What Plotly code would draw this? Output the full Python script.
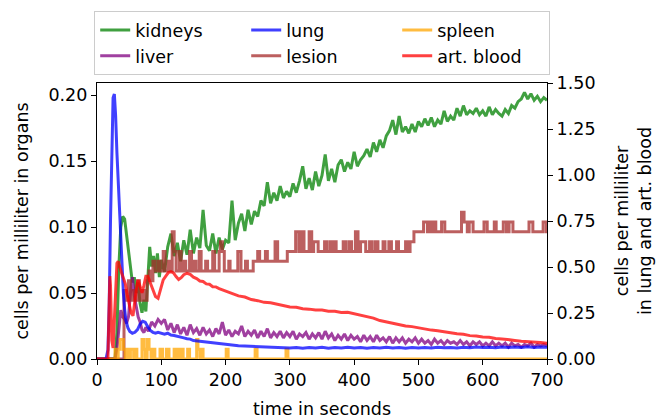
import plotly.graph_objects as go

# ---------------- data ----------------
Q = 0.00741  # quantum of the step-like organ series (cells / ml)

t_kidneys = [0, 28, 31, 34, 37, 40, 43, 46, 49, 52, 55, 58, 61, 64, 67, 70, 73, 76, 79, 82, 85, 88, 91, 94, 97,
             100, 105, 110, 115, 120, 125, 130, 135, 140, 145, 150, 155, 160, 165, 170, 175, 180, 185, 190, 195,
             200, 205, 210, 215, 220, 225, 230, 235, 240, 245, 250, 255, 260, 265, 270, 275, 280, 285, 290, 295,
             300, 305, 310, 315, 320, 325, 330, 335, 340, 345, 350, 355, 360, 365, 370, 375, 380, 385, 390, 395,
             400, 405, 410, 415, 420, 425, 430, 435, 440, 445, 450, 455, 460, 465, 470, 475, 480, 485, 490, 495,
             500, 505, 510, 515, 520, 525, 530, 535, 540, 545, 550, 555, 560, 565, 570, 575, 580, 585, 590, 595,
             600, 605, 610, 615, 620, 625, 630, 635, 640, 645, 650, 655, 660, 665, 670, 675, 680, 685, 690, 695, 700]
kidneys = [0, 0, 0.02, 0.07, 0.1, 0.108, 0.106, 0.095, 0.08, 0.07, 0.058, 0.062, 0.05, 0.058, 0.042, 0.035, 0.045,
           0.036, 0.06, 0.085, 0.07, 0.078, 0.065, 0.08, 0.062,
           0.075, 0.066, 0.085, 0.095, 0.078, 0.088, 0.074, 0.09, 0.079, 0.098, 0.08, 0.092, 0.084, 0.113, 0.086,
           0.082, 0.095, 0.08, 0.092, 0.083,
           0.09, 0.088, 0.12, 0.09, 0.103, 0.11, 0.097, 0.113, 0.102, 0.112, 0.108, 0.12, 0.116, 0.134, 0.118,
           0.126, 0.12, 0.131, 0.122, 0.127,
           0.123, 0.133, 0.126, 0.135, 0.146, 0.129, 0.137, 0.128, 0.142, 0.131, 0.139, 0.155, 0.135, 0.144, 0.134,
           0.147, 0.151, 0.142, 0.149, 0.144,
           0.157, 0.146, 0.151, 0.154, 0.159, 0.153, 0.164, 0.157, 0.166, 0.16, 0.169, 0.173, 0.181, 0.17, 0.184,
           0.172, 0.176, 0.171, 0.178, 0.172,
           0.18, 0.176, 0.182, 0.177, 0.183, 0.176, 0.181, 0.178, 0.188, 0.18, 0.184, 0.181, 0.19, 0.184, 0.192,
           0.185, 0.188, 0.186, 0.19, 0.185,
           0.188, 0.184, 0.191, 0.185, 0.189, 0.186, 0.184, 0.189, 0.186, 0.192, 0.19, 0.195, 0.197, 0.202, 0.197,
           0.201, 0.196, 0.199, 0.195, 0.198, 0.196]

t_liver = [0, 28, 31, 34, 37, 40, 43, 46, 49, 52, 55, 58, 61, 64, 67, 70, 73, 76, 80, 85, 90, 95,
           100, 105, 110, 115, 120, 125, 130, 135, 140, 145, 150, 155, 160, 165, 170, 175, 180, 185, 190, 195,
           200, 205, 210, 215, 220, 225, 230, 235, 240, 245, 250, 255, 260, 265, 270, 275, 280, 285, 290, 295,
           300, 305, 310, 315, 320, 325, 330, 335, 340, 345, 350, 355, 360, 365, 370, 375, 380, 385, 390, 395,
           400, 405, 410, 415, 420, 425, 430, 435, 440, 445, 450, 455, 460, 465, 470, 475, 480, 485, 490, 495,
           500, 505, 510, 515, 520, 525, 530, 535, 540, 545, 550, 555, 560, 565, 570, 575, 580, 585, 590, 595,
           600, 605, 610, 615, 620, 625, 630, 635, 640, 645, 650, 655, 660, 665, 670, 675, 680, 685, 690, 695, 700]
liver = [0, 0, 0.008, 0.025, 0.037, 0.032, 0.03, 0.027, 0.032, 0.05, 0.062, 0.048, 0.04, 0.032, 0.028, 0.022,
         0.02, 0.024, 0.021, 0.028, 0.025, 0.03,
         0.027, 0.03, 0.022, 0.027, 0.02, 0.026, 0.019, 0.024, 0.018, 0.026, 0.02, 0.023, 0.018, 0.024, 0.019,
         0.022, 0.017, 0.023, 0.019, 0.028,
         0.018, 0.022, 0.017, 0.021, 0.019, 0.025, 0.017, 0.021, 0.018, 0.022, 0.016, 0.021, 0.017, 0.023, 0.016,
         0.02, 0.017, 0.021, 0.016, 0.02,
         0.017, 0.021, 0.015, 0.019, 0.017, 0.02, 0.015, 0.019, 0.016, 0.02, 0.015, 0.021, 0.016, 0.019, 0.014,
         0.018, 0.015, 0.019, 0.014, 0.018,
         0.015, 0.017, 0.013, 0.018, 0.014, 0.017, 0.013, 0.018, 0.014, 0.016, 0.013, 0.017, 0.012, 0.016, 0.013,
         0.016, 0.012, 0.015, 0.013, 0.016,
         0.012, 0.015, 0.012, 0.014, 0.011, 0.015, 0.012, 0.014, 0.011, 0.014, 0.012, 0.013, 0.011, 0.014, 0.011,
         0.013, 0.01, 0.013, 0.011, 0.013,
         0.01, 0.012, 0.01, 0.013, 0.01, 0.012, 0.01, 0.012, 0.009, 0.012, 0.01, 0.011, 0.009, 0.011, 0.01,
         0.012, 0.009, 0.011, 0.01, 0.011, 0.01]

t_lesion = [0, 42, 45, 49, 52, 56, 60, 63, 66, 70, 74, 78, 81, 84, 87, 90, 95, 98, 103, 106, 111, 114, 117, 120,
            123, 128, 131, 135, 138, 144, 147, 151, 154, 159, 162, 169, 172, 180, 183, 190, 192, 195, 198, 205,
            207, 219, 224, 231, 234, 243, 250, 253, 262, 265, 277, 281, 296, 300, 309, 314, 318, 322, 330, 334,
            337, 344, 354, 357, 362, 365, 369, 372, 383, 387, 392, 396, 402, 406, 410, 418, 424, 428, 433, 437,
            445, 448, 454, 458, 466, 469, 480, 484, 487, 493, 508, 514, 517, 520, 524, 527, 536, 541, 567, 571,
            576, 579, 585, 602, 607, 618, 621, 632, 637, 641, 647, 672, 678, 694, 699, 700]
lesion_q = [0, 7, 6, 8, 6, 7, 6, 8, 6, 7, 6, 8, 9, 8, 10, 9, 10, 9, 11, 9, 10, 9, 13, 11,
            9, 11, 9, 10, 9, 11, 9, 10, 9, 11, 9, 10, 9, 11, 9, 11, 12, 11, 9, 10,
            9, 11, 9, 10, 9, 10, 11, 10, 11, 10, 12, 10, 11, 11, 13, 11, 13, 11, 13, 11,
            12, 11, 12, 11, 12, 11, 12, 11, 12, 11, 12, 11, 13, 11, 12, 11, 12, 11, 12, 11,
            12, 11, 12, 11, 12, 11, 12, 11, 12, 13, 14, 13, 14, 13, 14, 13, 14, 13, 15, 14,
            13, 14, 13, 14, 13, 14, 13, 14, 13, 14, 13, 14, 13, 14, 13, 13]

t_spleen = [0, 28, 31, 33, 36, 41, 44, 45, 48, 52, 57, 60, 62, 70, 73, 75, 78, 81, 84, 86, 90, 98, 102, 108,
            112, 120, 124, 125, 128, 131, 134, 141, 144, 155, 157, 160, 163, 165, 201, 204, 246, 249, 294, 297, 700]
spleen_q = [0, 1, 0, 1, 2, 1, 0, 1, 0, 1, 0, 1, 0, 2, 1, 0, 2, 1, 0, 1, 0, 1, 0, 1,
            0, 1, 0, 1, 0, 1, 0, 1, 0, 2, 1, 0, 1, 0, 1, 0, 1, 0, 1, 0, 0]

t_lung = [0, 14, 17, 19, 21, 23, 25, 27, 29, 31, 33, 35, 37, 39, 41, 43, 45, 48, 51, 55, 59, 63, 67, 71, 75,
          79, 83, 87, 91, 95, 100, 105, 110, 115, 120, 125, 130, 135, 140, 145, 150, 155, 160, 170, 180, 190,
          200, 210, 220, 230, 240, 250, 260, 270, 280, 290, 300, 310, 320, 330, 340, 350, 360, 370, 380, 390,
          400, 410, 420, 430, 440, 450, 460, 470, 480, 490, 500, 510, 520, 530, 540, 550, 560, 570, 580, 590,
          600, 610, 620, 630, 640, 650, 660, 670, 680, 690, 700]
lung = [0, 0, 0.05, 0.3, 0.75, 1.2, 1.42, 1.44, 1.32, 1.12, 0.95, 0.8, 0.62, 0.48, 0.36, 0.27, 0.21, 0.17, 0.15,
        0.14, 0.145, 0.16, 0.19, 0.205, 0.2, 0.175, 0.155, 0.145, 0.14, 0.145, 0.138, 0.135, 0.14, 0.13, 0.128,
        0.125, 0.118, 0.115, 0.11, 0.108, 0.1, 0.098, 0.095, 0.09, 0.085, 0.082,
        0.078, 0.075, 0.072, 0.07, 0.068, 0.066, 0.065, 0.062, 0.061, 0.06, 0.06, 0.062, 0.058, 0.063, 0.06,
        0.064, 0.059, 0.063, 0.06, 0.064,
        0.06, 0.063, 0.059, 0.062, 0.06, 0.064, 0.06, 0.063, 0.059, 0.062, 0.06, 0.063, 0.06, 0.064, 0.061,
        0.063, 0.06, 0.064, 0.061, 0.065,
        0.062, 0.064, 0.061, 0.065, 0.062, 0.065, 0.062, 0.066, 0.063, 0.065, 0.064]

t_blood = [0, 17, 19, 20, 21, 23, 25, 27, 29, 31, 33, 35, 38, 41, 44, 47, 50, 53, 56, 59, 62, 64, 67, 70, 73,
           76, 79, 83, 87, 91, 95, 99, 103, 107, 111, 115, 119, 123, 127, 131, 135, 140, 145, 150, 155, 160,
           165, 170, 175, 180, 185, 190, 195, 200, 210, 220, 230, 240, 250, 260, 270, 280, 290, 300, 310, 320,
           330, 340, 350, 360, 370, 380, 390, 400, 410, 420, 430, 440, 450, 460, 470, 480, 490, 500, 510, 520,
           530, 540, 550, 560, 570, 580, 590, 600, 610, 620, 630, 640, 650, 660, 670, 680, 690, 700]
blood = [0, 0, 0.3, 0.45, 0.4, 0.1, 0.06, 0.2, 0.42, 0.52, 0.53, 0.5, 0.47, 0.44, 0.41, 0.35, 0.29, 0.25, 0.235,
         0.33, 0.4, 0.43, 0.4, 0.36, 0.4, 0.45, 0.45, 0.41, 0.38, 0.34, 0.33, 0.38, 0.43, 0.45, 0.47, 0.475,
         0.468, 0.448, 0.432, 0.442, 0.458, 0.466, 0.46, 0.445, 0.437, 0.424, 0.421, 0.408, 0.406, 0.393,
         0.392, 0.383, 0.377, 0.368, 0.357, 0.343, 0.337, 0.323, 0.317, 0.308, 0.306, 0.298, 0.292, 0.283,
         0.281, 0.273, 0.271, 0.266, 0.266, 0.26, 0.259, 0.253, 0.254, 0.246, 0.241, 0.229, 0.222, 0.209,
         0.201, 0.194, 0.189, 0.179, 0.176, 0.169, 0.164, 0.157, 0.154, 0.147, 0.144, 0.137, 0.134, 0.127,
         0.125, 0.119, 0.118, 0.111, 0.109, 0.103, 0.101, 0.096, 0.095, 0.09, 0.089, 0.086]

# ---------------- figure ----------------
FONT = "DejaVu Sans"
FS = 17.5

fig = go.Figure()

def add(name, x, y, color, axis, rank, shape="linear"):
    fig.add_trace(go.Scatter(
        x=x, y=y, name=name, mode="lines", yaxis=axis, legendrank=rank,
        line=dict(color=color, width=3, shape=shape)))

add("kidneys", t_kidneys, kidneys, "rgba(0,128,0,0.75)", "y", 1)
add("liver", t_liver, liver, "rgba(128,0,128,0.75)", "y", 4)
add("lesion", t_lesion, [k * Q for k in lesion_q], "rgba(165,42,42,0.75)", "y", 5, "hv")
add("spleen", t_spleen, [k * Q for k in spleen_q], "rgba(255,165,0,0.75)", "y", 3, "hv")
add("lung", t_lung, lung, "rgba(0,0,255,0.75)", "y2", 2)
add("art. blood", t_blood, blood, "rgba(255,0,0,0.75)", "y2", 6)

axis_common = dict(showgrid=False, zeroline=False, showline=True, linecolor="black", linewidth=1.2,
                   ticks="outside", ticklen=5, tickwidth=1.2, tickcolor="black",
                   tickfont=dict(family=FONT, size=FS, color="black"))

fig.update_layout(
    width=664, height=419,
    margin=dict(l=97, r=117, t=83, b=60, autoexpand=False),
    paper_bgcolor="white", plot_bgcolor="white",
    font=dict(family=FONT, size=FS, color="black"),
    showlegend=True,
    legend=dict(orientation="h", x=0.5, xanchor="center", y=1.029, yanchor="bottom",
                entrywidth=106, entrywidthmode="pixels", traceorder="normal",
                bordercolor="#cccccc", borderwidth=1.2, bgcolor="white",
                font=dict(family=FONT, size=FS, color="black")),
    xaxis=dict(range=[0, 700], tickvals=[0, 100, 200, 300, 400, 500, 600, 700], mirror=True,
               title=dict(text="time in seconds", standoff=16,
                          font=dict(family=FONT, size=FS, color="black")),
               **axis_common),
    yaxis=dict(range=[0, 0.2091], tickvals=[0, 0.05, 0.1, 0.15, 0.2], tickformat=".2f",
               title=dict(text="cells per milliliter in organs", standoff=15,
                          font=dict(family=FONT, size=FS, color="black")),
               **axis_common),
    yaxis2=dict(range=[0, 1.5], tickvals=[0, 0.25, 0.5, 0.75, 1.0, 1.25, 1.5], tickformat=".2f",
                overlaying="y", side="right",
                title=dict(text="cells per milliliter<br>in lung and art. blood", standoff=21,
                           font=dict(family=FONT, size=FS, color="black")),
                **axis_common),
)

fig.write_html("out.html", config={"displayModeBar": False},
               post_script="document.body.style.margin='0';")
